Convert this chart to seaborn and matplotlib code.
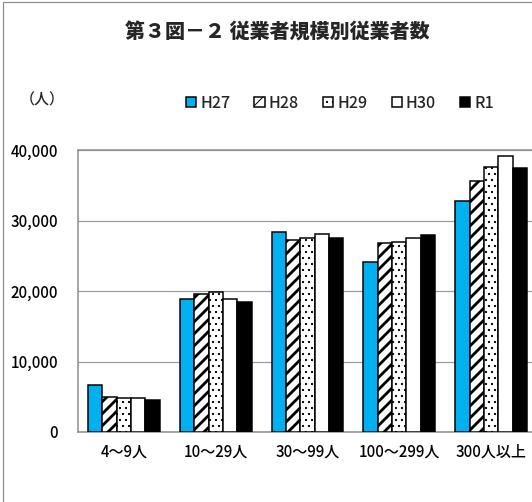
import matplotlib
matplotlib.use("Agg")
import matplotlib.pyplot as plt
from matplotlib.patches import Rectangle
from matplotlib.ticker import FixedLocator, FuncFormatter
import pandas as pd
import seaborn as sns

# Employees by establishment size, fiscal years H27–R1
sizes = ["4～9人", "10～29人", "30～99人", "100～299人", "300人以上"]
years = ["H27", "H28", "H29", "H30", "R1"]
h27 = [6600, 18800, 28300, 24100, 32700]
h28 = [5000, 19600, 27200, 26800, 35600]
h29 = [4800, 19800, 27500, 27000, 37600]
h30 = [4800, 18900, 28100, 27500, 39200]
r1 = [4600, 18400, 27500, 27900, 37400]
y_ticks = [0, 10000, 20000, 30000, 40000]

title = "第３図－２ 従業者規模別従業者数"
unit_label = "（人）"

series = [h27, h28, h29, h30, r1]
df = pd.DataFrame(
    [(s, y, v) for y, vals in zip(years, series) for s, v in zip(sizes, vals)],
    columns=["size", "year", "count"],
)

fill_colors = {"H27": "#00B0F0", "H28": "white", "H29": "white", "H30": "white", "R1": "black"}
hatches = {"H28": "//", "H29": ".."}

sns.set_style("white")
plt.rcParams["font.family"] = ["Noto Sans CJK JP", "DejaVu Sans"]
plt.rcParams["hatch.linewidth"] = 1.0

DPI = 72
fig = plt.figure(figsize=(532 / DPI, 502 / DPI), dpi=DPI)
fig.patch.set_facecolor("white")

# plot area; the right edge runs just past the figure border
ax = fig.add_axes([78 / 532, 70 / 502, 459 / 532, 282 / 502])

sns.barplot(
    data=df, x="size", y="count", hue="year", order=sizes, hue_order=years,
    palette=fill_colors, saturation=1, edgecolor="black", linewidth=1.5,
    width=0.78, legend=False, ax=ax, zorder=3,
)

for year, cont in zip(years, ax.containers):
    h = hatches.get(year)
    if h:
        for p in cont.patches:
            p.set_hatch(h)
            if hasattr(p, "set_hatch_linewidth"):
                p.set_hatch_linewidth(2.8 if "/" in h else 1.0)

ax.set_ylim(0, 40000)
ax.set_xlim(-0.5, len(sizes) - 0.5)
ax.yaxis.set_major_locator(FixedLocator(y_ticks))
ax.yaxis.set_major_formatter(FuncFormatter(lambda v, _: f"{int(v):,}"))
ax.grid(axis="y", color="#9a9a9a", linewidth=1.2, zorder=0)
ax.set_axisbelow(True)
ax.set_xlabel("")
ax.set_ylabel("")

ax.tick_params(axis="y", length=0, pad=20, labelsize=15, labelcolor="black")
ax.tick_params(axis="x", which="major", length=0, pad=12, labelsize=15, labelcolor="black")
for lbl in ax.get_xticklabels() + ax.get_yticklabels():
    lbl.set_fontweight("medium")
ax.xaxis.set_minor_locator(FixedLocator([i + 0.5 for i in range(len(sizes) - 1)]))
ax.tick_params(axis="x", which="minor", direction="in", length=5, width=1.2, color="#9a9a9a")

for side in ["left", "bottom", "top", "right"]:
    ax.spines[side].set_color("#8c8c8c")
    ax.spines[side].set_linewidth(1.5)

# legend with the bar styles
handles = [cont.patches[0] for cont in ax.containers]
leg = fig.legend(
    handles, years, loc="center", bbox_to_anchor=(340 / 532, 1 - 103 / 502),
    ncol=5, frameon=False, fontsize=16, handlelength=0.65, handleheight=0.65,
    handletextpad=0.25, columnspacing=1.5, borderaxespad=0,
    prop={"size": 16, "weight": "medium"},
)

fig.text(277 / 532, 1 - 33 / 502, title, ha="center", va="center",
         fontsize=20, fontweight="black")
fig.text(42 / 532, 1 - 100 / 502, unit_label, ha="center", va="center",
         fontsize=15, fontweight="medium")

# outer chart border (right and bottom fall outside the image)
fig.add_artist(Rectangle((3 / 532, -0.1), 1.2, 1.1 - 2 / 502, transform=fig.transFigure,
                         fill=False, edgecolor="#8c8c8c", linewidth=1.2))

fig.savefig("out.png", dpi=DPI, facecolor="white")
